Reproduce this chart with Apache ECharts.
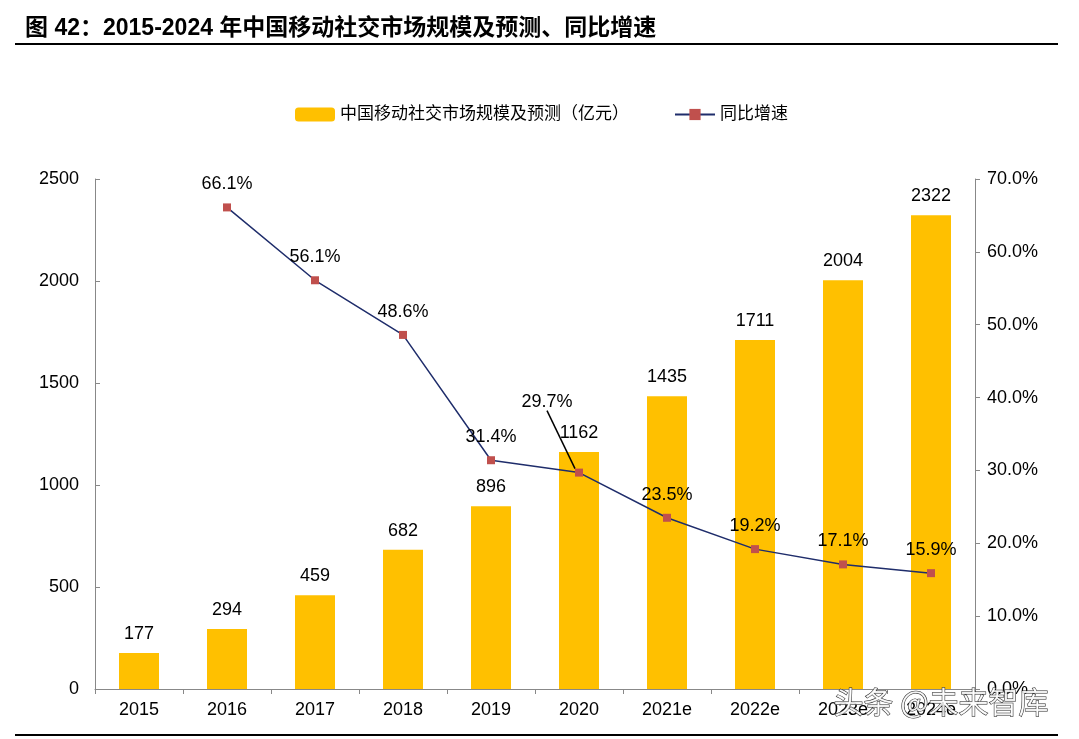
<!DOCTYPE html>
<html><head><meta charset="utf-8">
<script src="https://cdn.jsdelivr.net/npm/echarts@6/dist/echarts.min.js"></script>
<style>html,body{margin:0;padding:0;background:#fff}#c{width:1079px;height:739px}</style>
</head><body><div id="c"></div>
<script>
var categories = ['2015','2016','2017','2018','2019','2020','2021e','2022e','2023e','2024e'];
var marketSize = [177,294,459,682,896,1162,1435,1711,2004,2322];
var growth = [null,66.1,56.1,48.6,31.4,29.7,23.5,19.2,17.1,15.9];
var leftTicks = [0,500,1000,1500,2000,2500];
var rightTicks = [0,10,20,30,40,50,60,70];

var F = '"Liberation Sans", Arial, "Noto Sans CJK SC", sans-serif';
var chart = echarts.init(document.getElementById('c'));
var lineData = growth.map(function(v,i){
  if(i===5) return {value:v, labelLine:{show:true, lineStyle:{color:'#000', width:1.5}}};
  return v;
});
chart.setOption({
  animation:false,
  textStyle:{fontFamily:F},
  title:{text:'图 42：2015-2024 年中国移动社交市场规模及预测、同比增速', left:20, top:12,
    textStyle:{fontFamily:F, fontSize:23, fontWeight:'bold', color:'#000'}},
  graphic:[
    {type:'line', shape:{x1:15,y1:44,x2:1058,y2:44}, style:{stroke:'#000', lineWidth:2}},
    {type:'line', shape:{x1:15,y1:735,x2:1058,y2:735}, style:{stroke:'#000', lineWidth:2}},
    {type:'text', left:833, top:686, z:100, style:{text:'头条 @未来智库', fontSize:30, fontFamily:'"Noto Sans CJK SC", sans-serif', fill:'rgba(255,255,255,0.85)', stroke:'#222', lineWidth:1}}
  ],
  legend:{top:101, left:290, itemGap:45, itemWidth:40, itemHeight:14,
    textStyle:{fontFamily:F, fontSize:17, color:'#000'},
    data:[{name:'中国移动社交市场规模及预测（亿元）'},{name:'同比增速'}]},
  grid:{left:95, right:104, top:179, bottom:50},
  xAxis:{type:'category', data:categories,
    axisLine:{lineStyle:{color:'#888'}},
    axisTick:{show:true, length:5, lineStyle:{color:'#888'}},
    axisLabel:{fontSize:18, color:'#000', margin:12, fontFamily:F}},
  yAxis:[
    {type:'value', min:0, max:2500, interval:500, position:'left',
      axisLine:{show:true, lineStyle:{color:'#888'}},
      axisTick:{show:true, inside:true, length:5, lineStyle:{color:'#888'}},
      splitLine:{show:false},
      axisLabel:{fontSize:18, color:'#000', margin:16, fontFamily:F, formatter:function(v){return String(v);}}},
    {type:'value', min:0, max:70, interval:10, position:'right',
      axisLine:{show:true, lineStyle:{color:'#888'}},
      axisTick:{show:true, length:5, lineStyle:{color:'#888'}},
      splitLine:{show:false},
      axisLabel:{fontSize:18, color:'#000', margin:12, fontFamily:F, formatter:function(v){return v.toFixed(1)+'%';}}}
  ],
  series:[
    {name:'中国移动社交市场规模及预测（亿元）', type:'bar', data:marketSize, barWidth:40,
      itemStyle:{color:'#FFC000'},
      label:{show:true, position:'top', distance:10, fontSize:18, color:'#000', fontFamily:F}},
    {name:'同比增速', type:'line', yAxisIndex:1, data:lineData,
      symbol:'rect', symbolSize:8, connectNulls:false,
      lineStyle:{color:'#1F2D6B', width:1.5},
      itemStyle:{color:'#C0504D'},
      label:{show:true, position:'top', distance:10, fontSize:18, color:'#000', fontFamily:F,
        formatter:function(p){return p.value==null?'':p.value.toFixed(1)+'%';}},
      labelLayout:function(p){ if(p.dataIndex===5) return {dx:-32, dy:-48}; return {}; }
    }
  ]
});
</script></body></html>
